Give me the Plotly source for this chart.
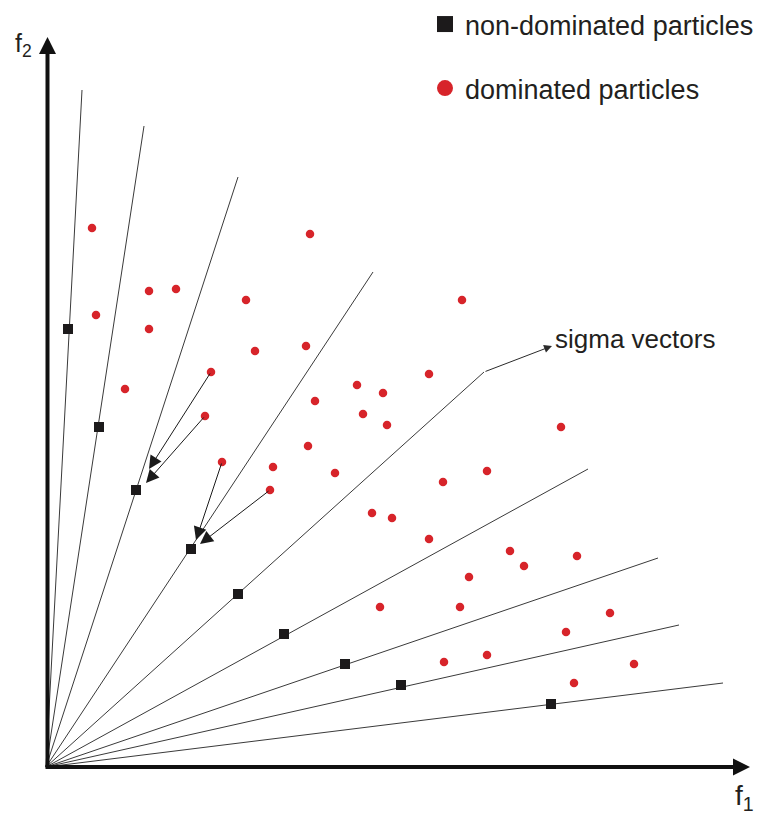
import plotly.graph_objects as go

# Diagram units: origin of f1/f2 at (0, 0)
# Dominated particles (red)
dom_f1 = [46, 50, 103, 130, 103, 200, 264, 416, 79, 165, 159, 209, 260, 311, 337,
          269, 317, 341, 383, 515, 262, 176, 227, 224, 289, 397, 441, 326, 346, 383,
          464, 478, 531, 423, 334, 414, 564, 520, 398, 441, 588, 528]
dom_f2 = [539, 452, 476, 478, 438, 467, 533, 467, 378, 395, 351, 416, 421, 382, 374,
          366, 353, 342, 393, 340, 321, 305, 300, 277, 294, 285, 296, 254, 249, 228,
          216, 201, 211, 190, 160, 160, 154, 135, 105, 112, 103, 84]

# Non-dominated particles (black squares)
nd_f1 = [22, 53, 90, 145, 192, 238, 299, 355, 505]
nd_f2 = [438, 340, 277, 218, 173, 133, 103, 82, 63]

# Sigma vector end points (rays from origin)
ray_f1 = [36, 98, 192, 327, 438, 542, 612, 633, 677]
ray_f2 = [677, 641, 590, 495, 395, 298, 209, 142, 84]

# Moves of dominated particles toward guides: (from) -> (to)
mv_from_f1 = [165, 159, 176, 224]
mv_from_f2 = [395, 351, 305, 277]
mv_to_f1 = [103, 100, 150, 154]
mv_to_f2 = [298, 284, 227, 223]

# Callout "sigma vectors": from kink of ray 5 to label
callout_tip = (506, 421)
callout_text_pos = (507, 428)

# Axis extents
x_axis_end = 704
y_axis_end = 730

FONT = "Liberation Sans"
TEXT_COL = "#231f20"
RED = "#d7242a"
BLACK = "#1c1a1b"
LINE = "#3a3a3a"

fig = go.Figure()

# rays
rx, ry = [], []
for ex, ey in zip(ray_f1, ray_f2):
    rx += [0, ex, None]
    ry += [0, ey, None]
fig.add_trace(go.Scatter(x=rx, y=ry, mode="lines",
                         line=dict(color=LINE, width=1), showlegend=False,
                         hoverinfo="skip"))

fig.add_trace(go.Scatter(x=dom_f1, y=dom_f2, mode="markers",
                         marker=dict(symbol="circle", size=8.5, color=RED),
                         showlegend=False))
fig.add_trace(go.Scatter(x=nd_f1, y=nd_f2, mode="markers",
                         marker=dict(symbol="square", size=10, color=BLACK),
                         showlegend=False))

# legend entries
fig.add_trace(go.Scatter(x=[None], y=[None], mode="markers",
                         marker=dict(symbol="square", size=16, color=BLACK),
                         name="non-dominated particles", legend="legend"))
fig.add_trace(go.Scatter(x=[None], y=[None], mode="markers",
                         marker=dict(symbol="circle", size=16, color=RED),
                         name="dominated particles", legend="legend2"))

annotations = []
# movement arrows
for fx, fy, tx, ty in zip(mv_from_f1, mv_from_f2, mv_to_f1, mv_to_f2):
    annotations.append(dict(x=tx, y=ty, ax=fx, ay=fy, xref="x", yref="y",
                            axref="x", ayref="y", text="", showarrow=True,
                            arrowhead=2, arrowsize=2.6, arrowwidth=1,
                            arrowcolor="#1a1a1a"))
# sigma callout
annotations.append(dict(x=callout_tip[0], y=callout_tip[1], ax=ray_f1[4], ay=ray_f2[4],
                        xref="x", yref="y", axref="x", ayref="y", text="",
                        showarrow=True, arrowhead=2, arrowsize=1.6, arrowwidth=1,
                        arrowcolor="#2a2a2a"))
annotations.append(dict(x=callout_text_pos[0], y=callout_text_pos[1], xref="x", yref="y",
                        text="sigma vectors", showarrow=False, xanchor="left",
                        yanchor="middle", font=dict(family=FONT, size=26, color=TEXT_COL)))
# axes with arrows
annotations.append(dict(x=x_axis_end, y=0, ax=-2, ay=0, xref="x", yref="y",
                        axref="x", ayref="y", text="", showarrow=True,
                        arrowhead=2, arrowsize=0.85, arrowwidth=4, arrowcolor="#111"))
annotations.append(dict(x=1.5, y=y_axis_end, ax=1.5, ay=-2, xref="x", yref="y",
                        axref="x", ayref="y", text="", showarrow=True,
                        arrowhead=2, arrowsize=0.85, arrowwidth=4, arrowcolor="#111"))
# axis labels
annotations.append(dict(x=-33, y=722, xref="x", yref="y", text="f<sub>2</sub>",
                        showarrow=False, xanchor="left", yanchor="middle",
                        font=dict(family=FONT, size=25, color=TEXT_COL)))
annotations.append(dict(x=687, y=-30, xref="x", yref="y", text="f<sub>1</sub>",
                        showarrow=False, xanchor="left", yanchor="middle",
                        font=dict(family=FONT, size=28, color=TEXT_COL)))

W, H = 758, 814
fig.update_layout(
    width=W, height=H,
    margin=dict(l=0, r=0, t=0, b=0, autoexpand=False),
    paper_bgcolor="white", plot_bgcolor="white",
    xaxis=dict(range=[-46, 712], visible=False, fixedrange=True),
    yaxis=dict(range=[-47, 767], visible=False, fixedrange=True),
    annotations=annotations,
    legend=dict(x=425 / W, y=1, xanchor="left", yanchor="top",
                font=dict(family=FONT, size=27, color=TEXT_COL),
                bgcolor="rgba(0,0,0,0)"),
    legend2=dict(x=425 / W, y=1 - 64 / H, xanchor="left", yanchor="top",
                 font=dict(family=FONT, size=27, color=TEXT_COL),
                 bgcolor="rgba(0,0,0,0)"),
    font=dict(family=FONT),
)

fig.write_html(
    "out.html",
    config={"displayModeBar": False},
    post_script="document.body.style.margin='0';document.body.style.overflow='hidden';",
)
